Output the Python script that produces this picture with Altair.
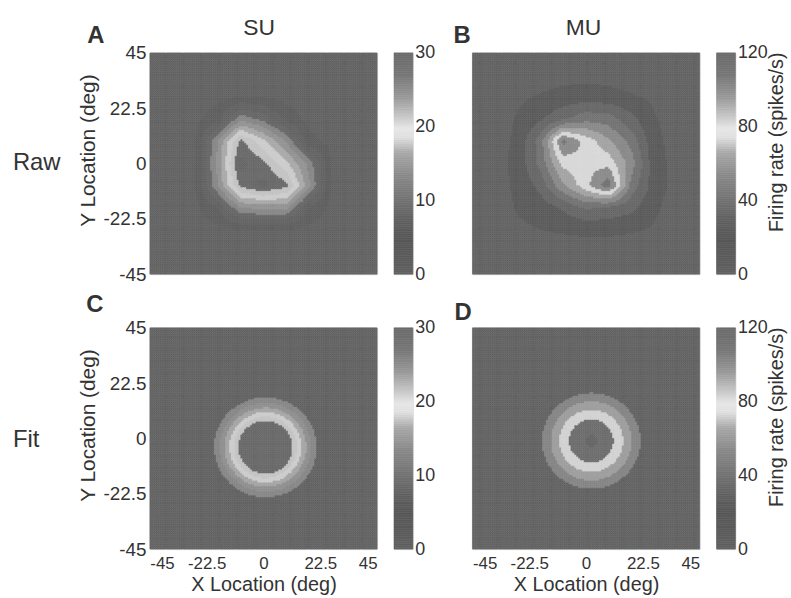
import altair as alt
import pandas as pd

# ---------------- data ----------------
# stimulus grid (deg); rows of the raw maps run from y=45 (top) to y=-45 (bottom),
# columns from x=-45 (left) to x=45 (right)
node_deg = [-45, -36, -27, -18, -9, 0, 9, 18, 27, 36, 45]

su_raw = [
    [2, 2, 2, 2, 2, 2, 2, 2, 2, 2, 2],
    [2, 2, 2, 2, 2, 2, 2, 2, 2, 2, 2],
    [2, 2, 2, 2, 3, 3, 2, 2, 2, 2, 2],
    [2, 2, 2, 5, 14, 11, 5, 2, 2, 2, 2],
    [2, 2, 3, 15, 28, 22, 15, 4, 2, 2, 2],
    [2, 2, 3, 16, 31, 28, 22, 14, 3, 2, 2],
    [2, 2, 3, 15, 28, 31, 28, 16, 3, 2, 2],
    [2, 2, 2, 6, 15, 16, 16, 6, 2, 2, 2],
    [2, 2, 2, 2, 3, 3, 3, 2, 2, 2, 2],
    [2, 2, 2, 2, 2, 2, 2, 2, 2, 2, 2],
    [2, 2, 2, 2, 2, 2, 2, 2, 2, 2, 2],
]
mu_raw = [
    [6, 6, 6, 6, 6, 6, 6, 6, 6, 6, 6],
    [6, 6, 6, 7, 8, 8, 8, 7, 6, 6, 6],
    [6, 6, 10, 13, 16, 18, 16, 13, 10, 6, 6],
    [6, 7, 13, 22, 34, 44, 42, 28, 13, 7, 6],
    [6, 8, 14, 42, 100, 80, 62, 44, 15, 8, 6],
    [6, 8, 15, 40, 76, 80, 80, 54, 17, 8, 6],
    [6, 8, 14, 28, 58, 80, 104, 44, 18, 8, 6],
    [6, 7, 13, 17, 26, 38, 34, 28, 14, 7, 6],
    [6, 6, 10, 12, 13, 14, 14, 13, 11, 6, 6],
    [6, 6, 6, 7, 8, 8, 8, 7, 6, 6, 6],
    [6, 6, 6, 6, 6, 6, 6, 6, 6, 6, 6],
]
# 2-D Gaussian fits: [x0, y0, amplitude, sigma, baseline]
su_fit = [0.9, -3.7, 35.6, 12.74, 2.0]
mu_fit = [2.2, -1.1, 92.0, 15.8, 5.0]

# contour levels of each panel
su_raw_levels = [3, 6, 9, 12, 15, 18, 21, 24, 27, 30]
mu_raw_levels = [12, 24, 36, 48, 60, 72, 84, 96, 108]
su_fit_levels = [12, 15, 18, 21, 24, 27]
mu_fit_levels = [48, 60, 72, 84, 96]
su_ticks = [0, 10, 20, 30]
mu_ticks = [0, 40, 80, 120]
su_max = 30
mu_max = 120
loc_ticks = [-45, -22.5, 0, 22.5, 45]
panel_letters = ["A", "B", "C", "D"]
col_titles = ["SU", "MU"]
row_titles = ["Raw", "Fit"]
x_title = "X Location (deg)"
y_title = "Y Location (deg)"
cb_title = "Firing rate (spikes/s)"

# ---------------- style ----------------
FONT = "Liberation Sans"
TXT = "#333333"
W, H, CBW, GAP = 229, 223, 19, 26
BG = "#636363"
su_raw_colors = [BG, "#606060", "#646464", "#686868", "#878787", "#949494",
                 "#a9a9a9", "#cdcdcd", "#c4c4c4", "#6a6a6a", "#666666"]
mu_raw_colors = [BG, "#5c5c5c", "#686868", "#737373", "#898989", "#a4a4a4",
                 "#d8d8d8", "#8c8c8c", "#747474", "#666666"]
su_fit_colors = [BG, "#878787", "#909090", "#a6a6a6", "#cdcdcd", "#c4c4c4", "#6a6a6a"]
mu_fit_colors = [BG, "#858585", "#9e9e9e", "#d2d2d2", "#6e6e6e", "#666666"]
cb_frac = [0, 0.08, 0.16, 0.24, 0.33, 0.45, 0.55, 0.62, 0.66, 0.72, 0.80, 0.90, 1.0]
cb_gray = ["#616161", "#5b5b5b", "#575757", "#606060", "#717171", "#8a8a8a", "#a8a8a8",
           "#e1e1e1", "#e6e6e6", "#c4c4c4", "#999999", "#777777", "#6a6a6a"]

N = 120            # rendering cells per side
D = 90 / N         # cell size (deg)
STEP = node_deg[1] - node_deg[0]
NMAX = len(node_deg) - 2


def fine_grid():
    return alt.Chart(alt.sequence(0, N, as_="i")).transform_calculate(
        j=f"sequence(0, {N})"
    ).transform_flatten(["j"]).transform_calculate(
        xa=f"-45 + datum.i * {D}", xb=f"-45 + (datum.i + 1) * {D}",
        ya=f"45 - (datum.j + 1) * {D}", yb=f"45 - datum.j * {D}",
        xc=f"-45 + (datum.i + 0.5) * {D}", yc=f"45 - (datum.j + 0.5) * {D}",
    )


def raw_source(grid):
    coarse = pd.DataFrame(
        [{"k": f"{r}_{c}", "v": grid[r][c]} for r in range(len(grid)) for c in range(len(grid[0]))]
    )
    t = fine_grid().transform_calculate(
        gx=f"(datum.xc + 45) / {STEP}", gy=f"(45 - datum.yc) / {STEP}"
    ).transform_calculate(
        ci=f"min(floor(datum.gx), {NMAX})", ri=f"min(floor(datum.gy), {NMAX})"
    ).transform_calculate(
        fx="datum.gx - datum.ci", fy="datum.gy - datum.ri",
        k00="datum.ri + '_' + datum.ci", k01="datum.ri + '_' + (datum.ci + 1)",
        k10="(datum.ri + 1) + '_' + datum.ci", k11="(datum.ri + 1) + '_' + (datum.ci + 1)",
    )
    for key, out in [("k00", "v00"), ("k01", "v01"), ("k10", "v10"), ("k11", "v11")]:
        t = t.transform_lookup(
            lookup=key, from_=alt.LookupData(data=coarse, key="k", fields=["v"]), as_=[out]
        )
    return t.transform_calculate(
        val="(1 - datum.fy) * ((1 - datum.fx) * datum.v00 + datum.fx * datum.v01)"
            " + datum.fy * ((1 - datum.fx) * datum.v10 + datum.fx * datum.v11)"
    )


def fit_source(p):
    x0, y0, amp, sig, base = p
    return fine_grid().transform_calculate(
        val=f"{base} + {amp} * exp(-((datum.xc - ({x0})) * (datum.xc - ({x0})) + "
            f"(datum.yc - ({y0})) * (datum.yc - ({y0}))) / (2 * {sig} * {sig}))"
    )


def text_layer(txt, x, y, size, weight="normal", align="left"):
    return alt.Chart(pd.DataFrame({"t": [txt]})).mark_text(
        align=align, baseline="alphabetic", font=FONT, fontSize=size,
        fontWeight=weight, color=TXT
    ).encode(text="t:N", x=alt.value(x), y=alt.value(y))


pos_scale = alt.Scale(domain=[-45, 45], nice=False, zero=False)


def x_axis():
    return alt.Axis(values=loc_ticks, labelExpr="'' + datum.value", title=x_title,
                    ticks=False, domain=False, grid=False, labelPadding=7,
                    labelFontSize=17, labelFont=FONT, labelColor=TXT, labelFlush=True,
                    titleFontSize=20, titleFont=FONT, titleColor=TXT, titleFontWeight="normal",
                    titleY=42, titleBaseline="alphabetic")


def y_axis():
    return alt.Axis(values=loc_ticks, labelExpr="'' + datum.value", title=y_title,
                    ticks=False, domain=False, grid=False, labelPadding=4,
                    labelFontSize=19, labelFont=FONT, labelColor=TXT,
                    titleFontSize=21, titleFont=FONT, titleColor=TXT, titleFontWeight="normal",
                    titleAngle=270, titleX=-56, titleY=98, titleAlign="center",
                    titleBaseline="alphabetic")


def panel(src, levels, colors, show_x, show_y, texts):
    sc = alt.Scale(type="threshold", domain=levels, range=colors)
    xenc = alt.X("xa:Q", scale=pos_scale, axis=x_axis() if show_x else None)
    yenc = alt.Y("ya:Q", scale=pos_scale, axis=y_axis() if show_y else None)
    rect = src.mark_rect(strokeWidth=0.5).encode(
        x=xenc, x2=alt.X2("xb:Q"), y=yenc, y2=alt.Y2("yb:Q"),
        fill=alt.Fill("val:Q", scale=sc, legend=None),
        stroke=alt.Stroke("val:Q", scale=sc, legend=None),
    )
    return alt.layer(rect, *texts).properties(width=W, height=H)


def colorbar(vmax, ticks, title):
    n = 120
    stops = [f * vmax for f in cb_frac]
    sc = alt.Scale(domain=stops, range=cb_gray, interpolate="rgb")
    ax_kw = dict(orient="right", values=ticks, ticks=False, domain=False, grid=False,
                 labelPadding=2, labelFontSize=18, labelFont=FONT, labelColor=TXT)
    if title:
        ax = alt.Axis(title=title, titleFontSize=20, titleFont=FONT, titleColor=TXT,
                      titleFontWeight="normal", titleAngle=270, titleX=47, titleY=89.5,
                      titleAlign="center", titleBaseline="alphabetic", **ax_kw)
    else:
        ax = alt.Axis(title=None, **ax_kw)
    return alt.Chart(alt.sequence(0, n, as_="s")).transform_calculate(
        v0=f"datum.s * {vmax} / {n}", v1=f"(datum.s + 1) * {vmax} / {n}",
        vm=f"(datum.s + 0.5) * {vmax} / {n}",
    ).mark_rect(strokeWidth=0.6).encode(
        x=alt.value(0), x2=alt.value(CBW),
        y=alt.Y("v0:Q", scale=alt.Scale(domain=[0, vmax], nice=False, zero=False), axis=ax),
        y2=alt.Y2("v1:Q"),
        fill=alt.Fill("vm:Q", scale=sc, legend=None),
        stroke=alt.Stroke("vm:Q", scale=sc, legend=None),
    ).properties(width=CBW, height=H)


def spacer():
    return alt.Chart(pd.DataFrame({"t": [0]})).mark_rect(opacity=0).encode(
        x=alt.value(0), x2=alt.value(1), y=alt.value(0), y2=alt.value(1)
    ).properties(width=GAP, height=H,
                 view=alt.ViewBackground(strokeOpacity=0, fillOpacity=0, strokeWidth=0))


RES = dict(x="independent", y="independent", fill="independent", stroke="independent")

pA = panel(raw_source(su_raw), su_raw_levels, su_raw_colors, False, True, [
    text_layer(panel_letters[0], -63, -10, 24, "bold"),
    text_layer(col_titles[0], 110, -18, 23, align="center"),
    text_layer(row_titles[0], -138, 118, 24),
])
pB = panel(raw_source(mu_raw), mu_raw_levels, mu_raw_colors, False, False, [
    text_layer(panel_letters[1], -19, -10, 24, "bold"),
    text_layer(col_titles[1], 112, -18, 23, align="center"),
])
pC = panel(fit_source(su_fit), su_fit_levels, su_fit_colors, True, True, [
    text_layer(panel_letters[2], -64, -16, 24, "bold"),
    text_layer(row_titles[1], -138, 120, 24),
])
pD = panel(fit_source(mu_fit), mu_fit_levels, mu_fit_colors, True, False, [
    text_layer(panel_letters[3], -18, -8, 24, "bold"),
])

chart = alt.concat(
    pA, colorbar(su_max, su_ticks, None), spacer(), pB, colorbar(mu_max, mu_ticks, cb_title),
    pC, colorbar(su_max, su_ticks, None), spacer(), pD, colorbar(mu_max, mu_ticks, cb_title),
    columns=5, spacing={"row": 54, "column": 17}, bounds="flush",
).resolve_scale(**RES).properties(
    padding={"left": 12, "top": 14, "right": 4, "bottom": 4}
).configure_view(strokeWidth=0, stroke="transparent").configure(background="white")

chart.save("out.html", embed_options={"renderer": "svg", "actions": False})
